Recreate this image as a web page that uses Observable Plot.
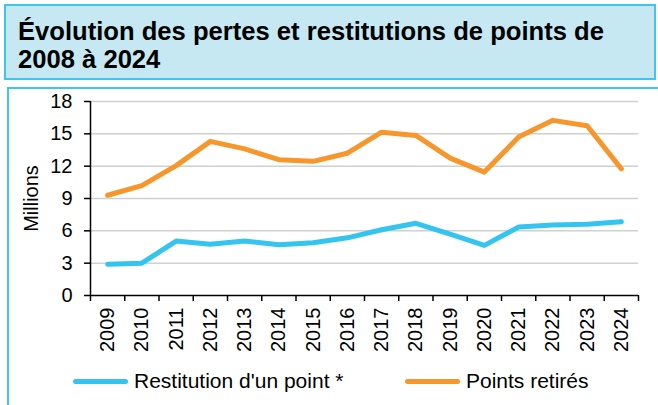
<!DOCTYPE html>
<html>
<head>
<meta charset="utf-8">
<script src="https://cdn.jsdelivr.net/npm/d3@7"></script>
<script src="https://cdn.jsdelivr.net/npm/@observablehq/plot@0.6"></script>
<style>
  html, body { margin: 0; padding: 0; width: 658px; height: 405px; overflow: hidden; background: #fff; font-family: "Liberation Sans", Arial, sans-serif; }
  #titlebox { position: absolute; left: 4px; top: 4px; width: 648px; height: 72px; background: #c6e8f2; border: 2px solid #3fc5ee; }
  #title { position: absolute; left: 12px; top: 11px; font-weight: bold; font-size: 25.6px; line-height: 28px; color: #000; white-space: nowrap; }
  #chartbox { position: absolute; left: 7px; top: 87px; width: 700px; height: 400px; border-left: 2px solid #3fc5ee; border-top: 2px solid #3fc5ee; }
  #plot { position: absolute; left: 0; top: 88px; }
  #legend { position: absolute; left: 0; top: 369px; width: 658px; height: 28px; }
  .item { position: absolute; top: 0; display: flex; align-items: center; font-size: 21px; color: #000; white-space: nowrap; }
  .swatch { width: 55px; height: 5px; border-radius: 3px; margin-right: 6px; }
</style>
</head>
<body>
<div id="titlebox"><div id="title">Évolution des pertes et restitutions de points de<br>2008 à 2024</div></div>
<div id="chartbox"></div>
<div id="plot"></div>
<div id="legend"></div>
<script>
const years = [2009, 2010, 2011, 2012, 2013, 2014, 2015, 2016, 2017, 2018, 2019, 2020, 2021, 2022, 2023, 2024];
const restitution = [2.9, 3.0, 5.05, 4.75, 5.05, 4.7, 4.9, 5.35, 6.1, 6.7, 5.7, 4.65, 6.35, 6.55, 6.6, 6.85];
const retires = [9.3, 10.2, 12.05, 14.3, 13.6, 12.6, 12.45, 13.2, 15.15, 14.85, 12.75, 11.45, 14.7, 16.25, 15.75, 11.75];
const seriesNames = ["Restitution d'un point *", "Points retirés"];
const seriesColors = ["#33c4f0", "#f7962b"];
const yTicks = [0, 3, 6, 9, 12, 15, 18];
const yLabel = "Millions";

const data = [];
years.forEach((y, i) => {
  data.push({year: y, value: restitution[i], series: seriesNames[0]});
  data.push({year: y, value: retires[i], series: seriesNames[1]});
});
const bounds = [years[0] - 0.5, ...years.map(y => y + 0.5)];
const xDomain = [bounds[0], bounds[bounds.length - 1]];

const chart = Plot.plot({
  width: 658,
  height: 270,
  marginTop: 13,
  marginBottom: 63,
  marginLeft: 90,
  marginRight: 20,
  style: {fontFamily: "'Liberation Sans', Arial, sans-serif", fontSize: "20px", color: "#000", background: "transparent"},
  x: {type: "linear", domain: xDomain},
  y: {domain: [0, 18]},
  color: {domain: seriesNames, range: seriesColors},
  marks: [
    Plot.gridY(yTicks.slice(1), {stroke: "#d0d0d0", strokeOpacity: 1, strokeWidth: 1.5}),
    Plot.axisY({ticks: yTicks, tickSize: 6, tickPadding: 12, fontSize: 20, stroke: "#000", strokeWidth: 1.5, label: yLabel, labelAnchor: "center", labelArrow: "none", labelOffset: 67}),
    Plot.axisX({ticks: bounds, tickFormat: () => "", tickSize: 6, stroke: "#000", strokeWidth: 1.5, label: null}),
    Plot.axisX({ticks: years, tickFormat: d => String(d), tickSize: 0, tickPadding: 12, tickRotate: -90, fontSize: 20, label: null}),
    Plot.ruleX([xDomain[0]], {y1: 0, y2: 18, stroke: "#000", strokeWidth: 1.5}),
    Plot.ruleY([0], {x1: xDomain[0], x2: xDomain[1], stroke: "#000", strokeWidth: 1.5}),
    Plot.line(data, {x: "year", y: "value", stroke: "series", strokeWidth: 5, strokeLinejoin: "round", strokeLinecap: "round"})
  ]
});
document.getElementById("plot").appendChild(chart);

const legend = document.getElementById("legend");
const legendX = [73, 405];
seriesNames.forEach((name, i) => {
  const item = document.createElement("div");
  item.className = "item";
  item.style.left = legendX[i] + "px";
  const sw = document.createElement("div");
  sw.className = "swatch";
  sw.style.background = seriesColors[i];
  const tx = document.createElement("span");
  tx.textContent = name;
  item.appendChild(sw);
  item.appendChild(tx);
  legend.appendChild(item);
});
</script>
</body>
</html>
